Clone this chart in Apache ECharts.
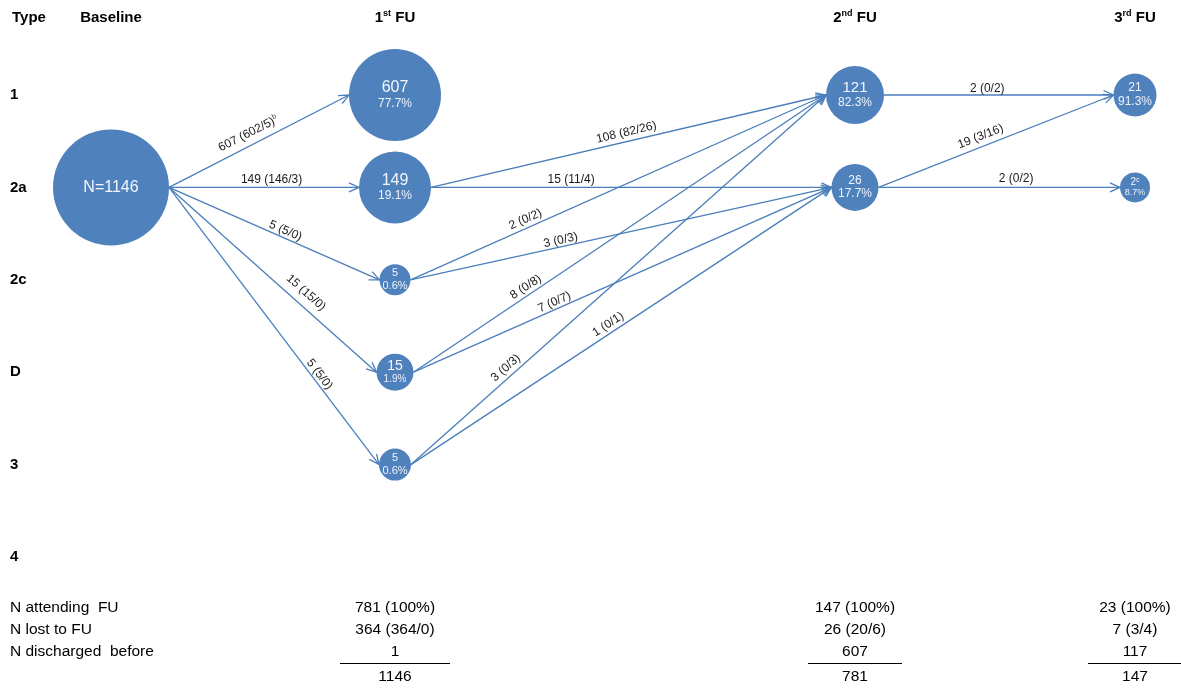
<!DOCTYPE html>
<html><head><meta charset="utf-8">
<script src="https://cdn.jsdelivr.net/npm/echarts@6/dist/echarts.min.js"></script>
<style>html,body{margin:0;padding:0;background:#fff}#c{width:1181px;height:688px}</style>
</head><body><div id="c"></div>
<script>
// ---------------- data ----------------
const types = ['1', '2a', '2c', 'D', '3', '4'];
const stageMain = ['Baseline', '1', '2', '3'];
const stageSup = ['', 'st', 'nd', 'rd'];
const stageTail = ['', ' FU', ' FU', ' FU'];

// nodes
const nodeStage = [0, 1, 1, 1, 1, 1, 2, 2, 3, 3];
const nodeType  = ['2a', '1', '2a', '2c', 'D', '3', '1', '2a', '1', '2a'];
const nodeCount = [1146, 607, 149, 5, 15, 5, 121, 26, 21, 2];
const nodePct   = ['', '77.7%', '19.1%', '0.6%', '1.9%', '0.6%', '82.3%', '17.7%', '91.3%', '8.7%'];
const nodeNote  = ['', '', '', '', '', '', '', '', '', 'c'];

// transitions (node index -> node index)
const edgeFrom = [0, 0, 0, 0, 0, 2, 2, 3, 3, 4, 4, 5, 5, 6, 7, 7];
const edgeTo   = [1, 2, 3, 4, 5, 6, 7, 6, 7, 6, 7, 6, 7, 8, 8, 9];
const edgeText = ['607 (602/5)', '149 (146/3)', '5 (5/0)', '15 (15/0)', '5 (5/0)',
                  '108 (82/26)', '15 (11/4)', '2 (0/2)', '3 (0/3)', '8 (0/8)', '7 (0/7)',
                  '3 (0/3)', '1 (0/1)', '2 (0/2)', '19 (3/16)', '2 (0/2)'];
const edgeNote = ['b', '', '', '', '', '', '', '', '', '', '', '', '', '', '', ''];

// summary table
const rowLabels = ['N attending  FU', 'N lost to FU', 'N discharged  before'];
const attending = ['781 (100%)', '147 (100%)', '23 (100%)'];
const lostFU = ['364 (364/0)', '26 (20/6)', '7 (3/4)'];
const discharged = ['1', '607', '117'];
const totals = ['1146', '781', '147'];

// ---------------- layout / style ----------------
const stageX = [111, 395, 855, 1135];
const nodeSize = [116, 92, 72, 31, 37, 32, 58, 47, 43, 30];
const nodeFont = [[16, 0], [16, 12], [16, 12], [11, 11], [14, 10], [11, 11], [15, 12], [12, 12], [12, 12], [10, 9]];
const labelT = [0.47, 0.54, 0.54, 0.62, 0.69, 0.50, 0.35, 0.285, 0.36, 0.283, 0.344, 0.243, 0.48, 0.45, 0.45, 0.57];
const labelD = [11.5, 7.5, 7, 12.5, 7, 9, 8, 8.5, 6.5, 8, 7, 9, 8.5, 6.5, 10, 8.5];
const underlineHalf = [55, 47, 47];
const FONT = 'Liberation Sans, Arial, sans-serif';
const NODE = '#4f81bd';
const EDGE = '#4a7ebb';
const GRID_TOP = 95;

const chart = echarts.init(document.getElementById('c'));

const nodeData = nodeCount.map((n, i) => {
  const f = nodeFont[i];
  let fmt;
  if (i === 0) fmt = '{n|N=' + n + '}';
  else fmt = '{n|' + n + '}' + (nodeNote[i] ? '{s|' + nodeNote[i] + '}' : '') + '\n{p|' + nodePct[i] + '}';
  return {
    value: [stageX[nodeStage[i]], types.indexOf(nodeType[i])],
    symbolSize: nodeSize[i],
    label: {
      formatter: fmt,
      rich: {
        n: { fontSize: f[0], lineHeight: f[0] + 1, color: '#f3f6fb', fontFamily: FONT },
        s: { fontSize: 7, lineHeight: 7, verticalAlign: 'top', color: '#f3f6fb', fontFamily: FONT },
        p: { fontSize: f[1] || 12, lineHeight: (f[1] || 12) + 2, color: '#eef2f9', fontFamily: FONT }
      }
    }
  };
});

const edgeData = edgeFrom.map((f, i) => [
  stageX[nodeStage[f]], types.indexOf(nodeType[f]),
  stageX[nodeStage[edgeTo[i]]], types.indexOf(nodeType[edgeTo[i]]), i
]);

function renderEdge(params, api) {
  const i = api.value(4);
  const a = api.coord([api.value(0), api.value(1)]);
  const b = api.coord([api.value(2), api.value(3)]);
  const rs = nodeSize[edgeFrom[i]] / 2, rt = nodeSize[edgeTo[i]] / 2;
  const x1 = a[0] + rs, y1 = a[1], x2 = b[0] - rt, y2 = b[1];
  const dx = x2 - x1, dy = y2 - y1, L = Math.hypot(dx, dy);
  const ux = dx / L, uy = dy / L;
  const ah = 10, aw = 4.5;
  const p1 = [x2 - ux * ah - uy * aw, y2 - uy * ah + ux * aw];
  const p2 = [x2 - ux * ah + uy * aw, y2 - uy * ah - ux * aw];
  const t = labelT[i], d = labelD[i];
  const lx = x1 + dx * t + uy * d, ly = y1 + dy * t - ux * d;
  const txt = '{m|' + edgeText[i] + '}' + (edgeNote[i] ? '{s|' + edgeNote[i] + '}' : '');
  return {
    type: 'group',
    children: [
      { type: 'line', shape: { x1, y1, x2, y2 }, style: { stroke: EDGE, lineWidth: 1.3 } },
      { type: 'polyline', shape: { points: [p1, [x2, y2], p2] }, style: { stroke: EDGE, lineWidth: 1.3, fill: null } },
      {
        type: 'text', x: lx, y: ly, rotation: -Math.atan2(dy, dx),
        style: {
          text: txt, align: 'center', verticalAlign: 'middle',
          rich: {
            m: { fontSize: 12, lineHeight: 14, fontFamily: FONT, fill: '#1a1a1a', color: '#1a1a1a' },
            s: { fontSize: 7, lineHeight: 7, verticalAlign: 'top', fontFamily: FONT, fill: '#1a1a1a', color: '#1a1a1a' }
          }
        }
      }
    ]
  };
}

chart.setOption({
  animation: false,
  backgroundColor: '#fff',
  grid: { left: 0, right: 0, top: GRID_TOP, bottom: 131 },
  xAxis: {
    type: 'value', min: 0, max: 1181, position: 'top',
    axisLine: { show: false }, axisTick: { show: false }, splitLine: { show: false },
    axisLabel: {
      customValues: stageX,
      margin: GRID_TOP - 18,
      verticalAlign: 'middle',
      formatter: function (v) {
        const k = stageX.indexOf(v);
        if (k < 0) return '';
        return '{b|' + stageMain[k] + '}' + (stageSup[k] ? '{s|' + stageSup[k] + '}' : '') + (stageTail[k] ? '{b|' + stageTail[k] + '}' : '');
      },
      rich: {
        b: { fontSize: 15, fontWeight: 'bold', fontFamily: FONT, color: '#000', lineHeight: 18 },
        s: { fontSize: 9, fontWeight: 'bold', fontFamily: FONT, color: '#000', lineHeight: 9, verticalAlign: 'top' }
      }
    }
  },
  yAxis: {
    type: 'category', data: types, inverse: true, boundaryGap: false,
    axisLine: { show: false }, axisTick: { show: false }, splitLine: { show: false },
    axisLabel: { inside: true, margin: 10, align: 'left', fontSize: 15, fontWeight: 'bold', color: '#000', fontFamily: FONT }
  },
  series: [
    {
      type: 'custom', renderItem: renderEdge, data: edgeData,
      encode: { x: [0, 2], y: [1, 3] }, z: 2, silent: true, clip: false
    },
    {
      type: 'scatter', data: nodeData, z: 3, silent: true,
      itemStyle: { color: NODE, opacity: 1 },
      label: { show: true, position: 'inside', fontFamily: FONT, align: 'center', verticalAlign: 'middle' }
    }
  ]
});

// header "Type" and summary table
const colX = stageX.slice(1).map(v => chart.convertToPixel({ xAxisIndex: 0 }, v));
const tableRows = [attending, lostFU, discharged];
const rowY = [608, 630, 652];
const g = [];
g.push({ type: 'text', x: 12, y: 18, style: { text: 'Type', font: 'bold 15px ' + FONT, fill: '#000', align: 'left', verticalAlign: 'middle' } });
rowLabels.forEach((t, r) => {
  g.push({ type: 'text', x: 10, y: rowY[r], style: { text: t, font: '15.5px ' + FONT, fill: '#000', align: 'left', verticalAlign: 'middle' } });
});
colX.forEach((cx, c) => {
  tableRows.forEach((arr, r) => {
    g.push({ type: 'text', x: cx, y: rowY[r], style: { text: arr[c], font: '15.5px ' + FONT, fill: '#000', align: 'center', verticalAlign: 'middle' } });
  });
  g.push({ type: 'line', shape: { x1: cx - underlineHalf[c], y1: 663.5, x2: cx + underlineHalf[c], y2: 663.5 }, style: { stroke: '#000', lineWidth: 1 } });
  g.push({ type: 'text', x: cx, y: 677, style: { text: totals[c], font: '15.5px ' + FONT, fill: '#000', align: 'center', verticalAlign: 'middle' } });
});
chart.setOption({ graphic: g });
</script>
</body></html>
